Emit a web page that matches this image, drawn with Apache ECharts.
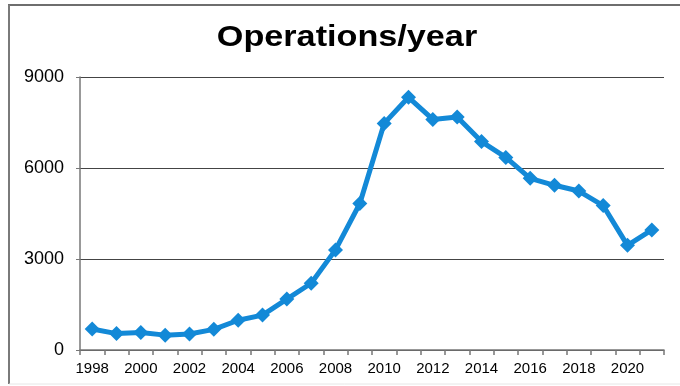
<!DOCTYPE html>
<html>
<head>
<meta charset="utf-8">
<script src="https://cdn.jsdelivr.net/npm/echarts@6/dist/echarts.min.js"></script>
<style>
  html, body { margin: 0; padding: 0; background: #fff; }
  #chart { width: 680px; height: 386px; }
</style>
</head>
<body>
<div id="chart"></div>
<script>
// Annual operation counts
const years = ['1998','1999','2000','2001','2002','2003','2004','2005','2006','2007','2008','2009',
               '2010','2011','2012','2013','2014','2015','2016','2017','2018','2019','2020','2021'];
const operations = [690, 540, 580, 490, 530, 680, 980, 1150, 1680, 2200, 3300, 4830,
                    7470, 8330, 7600, 7680, 6870, 6350, 5660, 5430, 5240, 4760, 3450, 3960];
const yTicks = [0, 3000, 6000, 9000];

const FONT = 'Liberation Sans, Arial, Helvetica, sans-serif';
const chart = echarts.init(document.getElementById('chart'), null, { renderer: 'canvas' });

chart.setOption({
  animation: false,
  backgroundColor: '#ffffff',
  graphic: [
    // frame
    { type: 'line', shape: { x1: 8, y1: 5, x2: 680, y2: 5 }, style: { stroke: '#6e6e6e', lineWidth: 2 } },
    { type: 'line', shape: { x1: 9, y1: 5, x2: 9, y2: 384 }, style: { stroke: '#7a7a7a', lineWidth: 2 } },
    { type: 'line', shape: { x1: 9, y1: 384, x2: 680, y2: 384 }, style: { stroke: '#e6e6e6', lineWidth: 1 } },
    // heading, slightly widened
    {
      type: 'text',
      x: 347,
      y: 38,
      scaleX: 1.14,
      style: {
        text: 'Operations/year',
        font: 'bold 30px ' + FONT,
        fill: '#000',
        align: 'center',
        verticalAlign: 'middle'
      }
    }
  ],
  grid: { left: 80, right: 16, top: 77, bottom: 36, containLabel: false },
  xAxis: {
    type: 'category',
    data: years,
    boundaryGap: true,
    axisLine: { lineStyle: { color: '#777', width: 1.5 } },
    axisTick: { show: true, interval: 0, length: 5, lineStyle: { color: '#777', width: 1.5 } },
    axisLabel: {
      interval: 1,
      margin: 11,
      fontFamily: FONT,
      fontSize: 15,
      color: '#000'
    },
    splitLine: { show: false }
  },
  yAxis: {
    type: 'value',
    min: yTicks[0],
    max: yTicks[yTicks.length - 1],
    interval: yTicks[1] - yTicks[0],
    axisLine: { show: true, lineStyle: { color: '#777', width: 1.5 } },
    axisTick: { show: true, length: 4, lineStyle: { color: '#777' } },
    axisLabel: {
      margin: 16,
      fontFamily: FONT,
      fontSize: 18,
      color: '#000',
      formatter: v => String(v)
    },
    splitLine: { show: true, lineStyle: { color: '#444', width: 1.2 } }
  },
  series: [{
    type: 'line',
    data: operations,
    symbol: 'diamond',
    symbolSize: 15,
    lineStyle: { color: '#1389d7', width: 5 },
    itemStyle: { color: '#1389d7' }
  }]
});
</script>
</body>
</html>
